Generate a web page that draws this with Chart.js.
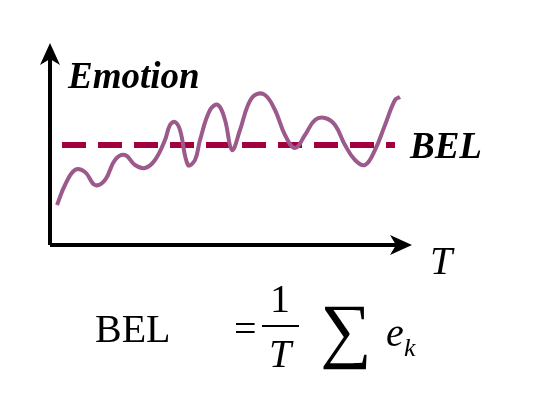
<!DOCTYPE html>
<html>
<head>
<script src="https://cdn.jsdelivr.net/npm/chart.js"></script>
<style>
  body { margin: 0; background: #fff; }
  #wrap { width: 555px; height: 408px; }
</style>
</head>
<body>
<div id="wrap"><canvas id="c" width="555" height="408"></canvas></div>
<script>
// emotion curve, x = time, y = emotion level
const tiempos = [7, 15, 25, 35, 45, 55, 65, 75, 85, 95, 105, 115, 120, 125, 130, 138, 145, 150, 160, 168, 175, 182, 190, 198, 205, 215, 225, 235, 245, 255, 265, 275, 285, 295, 305, 315, 325, 335, 345, 350];
const emocion = [40, 60, 75, 73, 60, 65, 85, 90, 80, 77, 85, 105, 120, 123, 115, 80, 85, 105, 135, 140, 125, 95, 115, 140, 150, 150, 135, 110, 97, 110, 125, 127, 120, 100, 85, 80, 95, 120, 145, 148];
const nivelBEL = 100;
const inicioBEL = 12;
const finBEL = 345;

const puntos = tiempos.map((t, i) => ({ x: t, y: emocion[i] }));

const dibujoExtra = {
    id: 'dibujoExtra',
    afterDraw(chart) {
        const ctx = chart.ctx;
        const x = chart.scales.x, y = chart.scales.y;
        const x0 = x.getPixelForValue(0), y0 = y.getPixelForValue(0);
        const xEnd = x.getPixelForValue(360), yEnd = y.getPixelForValue(200);
        ctx.save();
        ctx.strokeStyle = '#000';
        ctx.fillStyle = '#000';
        ctx.lineWidth = 4;
        ctx.beginPath();
        ctx.moveTo(x0, y0);
        ctx.lineTo(x0, yEnd + 10);
        ctx.moveTo(x0, y0);
        ctx.lineTo(xEnd - 10, y0);
        ctx.stroke();
        // arrow heads
        ctx.beginPath();
        ctx.moveTo(x0, yEnd - 2);
        ctx.lineTo(x0 - 10, yEnd + 20);
        ctx.lineTo(x0, yEnd + 14);
        ctx.lineTo(x0 + 10, yEnd + 20);
        ctx.closePath();
        ctx.fill();
        ctx.beginPath();
        ctx.moveTo(xEnd + 2, y0);
        ctx.lineTo(xEnd - 20, y0 - 10);
        ctx.lineTo(xEnd - 14, y0);
        ctx.lineTo(xEnd - 20, y0 + 10);
        ctx.closePath();
        ctx.fill();

        ctx.font = 'bold italic 37px "Liberation Serif", serif';
        ctx.fillText('Emotion', 68, 88);
        ctx.fillText('BEL', 410, 158);
        ctx.font = 'italic 40px "Liberation Serif", serif';
        ctx.fillText('T', 430, 274);

        // formula
        ctx.font = '40px "Liberation Serif", serif';
        ctx.fillText('BEL', 95, 342);
        ctx.fillText('=', 234, 342);
        ctx.textAlign = 'center';
        ctx.fillText('1', 280, 312);
        ctx.font = 'italic 40px "Liberation Serif", serif';
        ctx.fillText('T', 280, 367);
        ctx.lineWidth = 2;
        ctx.beginPath();
        ctx.moveTo(262, 326);
        ctx.lineTo(299, 326);
        ctx.stroke();
        ctx.font = '72px "Liberation Serif", serif';
        ctx.fillText('\u2211', 346, 354);
        ctx.textAlign = 'left';
        ctx.font = 'italic 40px "Liberation Serif", serif';
        ctx.fillText('e', 386, 346);
        ctx.font = 'italic 26px "Liberation Serif", serif';
        ctx.fillText('k', 404, 356);
        ctx.restore();
    }
};

new Chart(document.getElementById('c').getContext('2d'), {
    type: 'line',
    data: {
        datasets: [{
            data: puntos,
            borderColor: '#9b5a8b',
            borderWidth: 4,
            pointRadius: 0,
            tension: 0.4
        }, {
            data: [{ x: inicioBEL, y: nivelBEL }, { x: finBEL, y: nivelBEL }],
            borderColor: '#a3003f',
            borderWidth: 6,
            borderDash: [24, 12],
            pointRadius: 0
        }]
    },
    options: {
        responsive: false,
        animation: false,
        layout: { padding: { left: 50, right: 145, top: 45, bottom: 163 } },
        plugins: { legend: { display: false }, tooltip: { enabled: false } },
        scales: {
            x: { type: 'linear', min: 0, max: 360, display: false },
            y: { min: 0, max: 200, display: false }
        }
    },
    plugins: [dibujoExtra]
});
</script>
</body>
</html>
